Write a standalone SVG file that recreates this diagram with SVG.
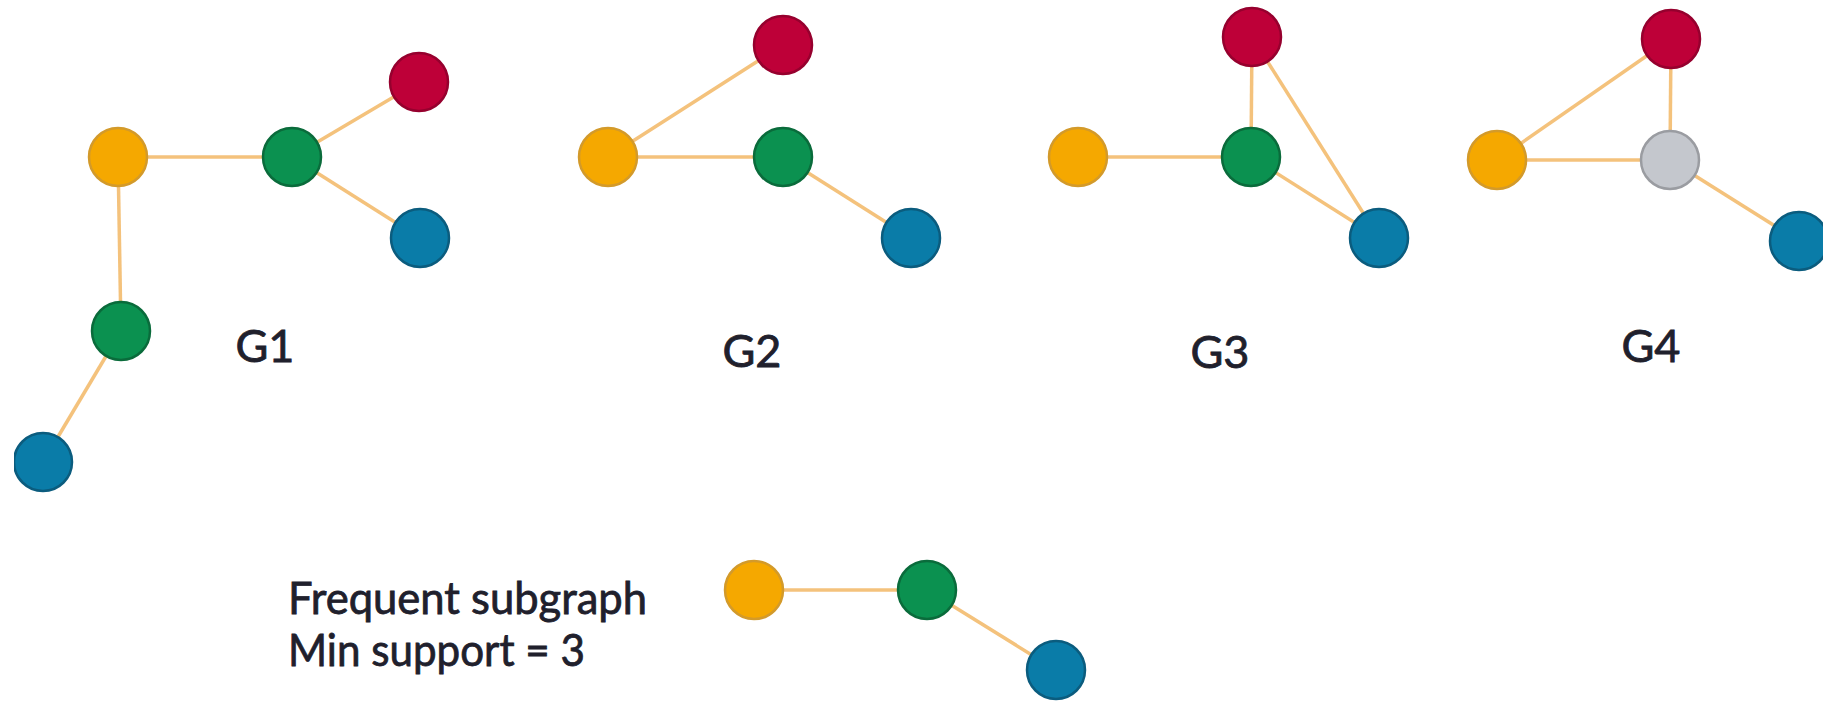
<svg xmlns="http://www.w3.org/2000/svg" width="1823" height="703" viewBox="0 0 1823 703">
  <style>
    .edge { stroke: #F4C27C; stroke-width: 3.5; fill: none; }
    .n { stroke-width: 2.5; }
    .orange { fill: #F5A800; stroke: #D39A2A; }
    .green { fill: #0B9150; stroke: #0A6B3B; }
    .red { fill: #BE0038; stroke: #96002E; }
    .blue { fill: #0A7CA8; stroke: #0B5C7E; }
    .gray { fill: #C4C7CD; stroke: #9A9CA1; }
    .label { font-family: Lato, "Liberation Sans", sans-serif; font-size: 45px; fill: #20202C; stroke: #20202C; stroke-width: 0.8; }
  </style>
  <defs>
    <clipPath id="leftEdge">
      <rect x="14" y="0" width="1809" height="703"/>
    </clipPath>
  </defs>
  <rect width="1823" height="703" fill="#FFFFFF"/>

  <!-- connectors -->
  <g id="connectors">
    <!-- G1 -->
    <line class="edge" x1="118" y1="157" x2="292" y2="157"/>
    <line class="edge" x1="292" y1="157" x2="419" y2="82"/>
    <line class="edge" x1="292" y1="157" x2="420" y2="238"/>
    <line class="edge" x1="118" y1="157" x2="121" y2="331"/>
    <line class="edge" x1="121" y1="331" x2="43" y2="462"/>
    <!-- G2 -->
    <line class="edge" x1="608" y1="157" x2="783" y2="45"/>
    <line class="edge" x1="608" y1="157" x2="783" y2="157"/>
    <line class="edge" x1="783" y1="157" x2="911" y2="238"/>
    <!-- G3 -->
    <line class="edge" x1="1078" y1="157" x2="1251" y2="157"/>
    <line class="edge" x1="1251" y1="157" x2="1252" y2="37"/>
    <line class="edge" x1="1252" y1="37" x2="1379" y2="238"/>
    <line class="edge" x1="1251" y1="157" x2="1379" y2="238"/>
    <!-- G4 -->
    <line class="edge" x1="1497" y1="160" x2="1671" y2="39"/>
    <line class="edge" x1="1671" y1="39" x2="1670" y2="160"/>
    <line class="edge" x1="1497" y1="160" x2="1670" y2="160"/>
    <line class="edge" x1="1670" y1="160" x2="1799" y2="241"/>
    <!-- frequent subgraph -->
    <line class="edge" x1="754" y1="590" x2="927" y2="590"/>
    <line class="edge" x1="927" y1="590" x2="1056" y2="670"/>
  </g>

  <!-- G1 nodes -->
  <g id="g1-orange"><circle class="n orange" cx="118" cy="157" r="29"/></g>
  <g id="g1-green-a"><circle class="n green" cx="292" cy="157" r="29"/></g>
  <g id="g1-red"><circle class="n red" cx="419" cy="82" r="29"/></g>
  <g id="g1-blue-a"><circle class="n blue" cx="420" cy="238" r="29"/></g>
  <g id="g1-green-b"><circle class="n green" cx="121" cy="331" r="29"/></g>
  <g id="g1-blue-b" clip-path="url(#leftEdge)"><circle class="n blue" cx="43" cy="462" r="29"/></g>
  <g id="g1-label"><text class="label" x="265" y="362" text-anchor="middle">G1</text></g>

  <!-- G2 nodes -->
  <g id="g2-orange"><circle class="n orange" cx="608" cy="157" r="29"/></g>
  <g id="g2-green"><circle class="n green" cx="783" cy="157" r="29"/></g>
  <g id="g2-red"><circle class="n red" cx="783" cy="45" r="29"/></g>
  <g id="g2-blue"><circle class="n blue" cx="911" cy="238" r="29"/></g>
  <g id="g2-label"><text class="label" x="752" y="367" text-anchor="middle">G2</text></g>

  <!-- G3 nodes -->
  <g id="g3-orange"><circle class="n orange" cx="1078" cy="157" r="29"/></g>
  <g id="g3-green"><circle class="n green" cx="1251" cy="157" r="29"/></g>
  <g id="g3-red"><circle class="n red" cx="1252" cy="37" r="29"/></g>
  <g id="g3-blue"><circle class="n blue" cx="1379" cy="238" r="29"/></g>
  <g id="g3-label"><text class="label" x="1220" y="368" text-anchor="middle">G3</text></g>

  <!-- G4 nodes -->
  <g id="g4-orange"><circle class="n orange" cx="1497" cy="160" r="29"/></g>
  <g id="g4-gray"><circle class="n gray" cx="1670" cy="160" r="29"/></g>
  <g id="g4-red"><circle class="n red" cx="1671" cy="39" r="29"/></g>
  <g id="g4-blue"><circle class="n blue" cx="1799" cy="241" r="29"/></g>
  <g id="g4-label"><text class="label" x="1651" y="362" text-anchor="middle">G4</text></g>

  <!-- frequent subgraph -->
  <g id="sub-orange"><circle class="n orange" cx="754" cy="590" r="29"/></g>
  <g id="sub-green"><circle class="n green" cx="927" cy="590" r="29"/></g>
  <g id="sub-blue"><circle class="n blue" cx="1056" cy="670" r="29"/></g>
  <g id="sub-caption">
    <text class="label" x="288" y="614" textLength="359" lengthAdjust="spacingAndGlyphs">Frequent subgraph</text>
    <text class="label" x="288" y="666" textLength="297" lengthAdjust="spacingAndGlyphs">Min support = 3</text>
  </g>
</svg>
